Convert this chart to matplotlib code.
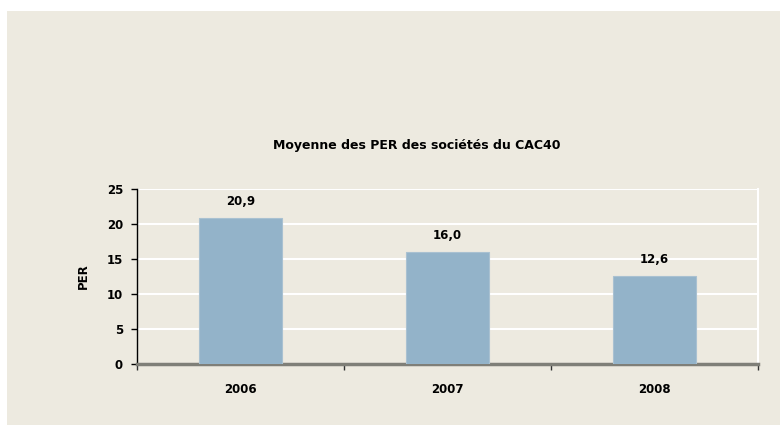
import matplotlib.pyplot as plt
from matplotlib.patches import Rectangle

# data
years = ['2006', '2007', '2008']
per_values = [20.9, 16.0, 12.6]
y_ticks = [0, 5, 10, 15, 20, 25]

BEIGE = '#edeae0'
BAR = '#93b3c9'

plt.rcParams['font.family'] = ['DejaVu Sans']
plt.rcParams['font.weight'] = 'bold'

fig = plt.figure(figsize=(7.8, 4.25), dpi=100, facecolor='white')
fig.patches.append(Rectangle((7 / 780, 0), 1 - 7 / 780, 1 - 11 / 425,
                             transform=fig.transFigure, facecolor=BEIGE,
                             edgecolor='none', zorder=-10))

ax = fig.add_axes([137 / 780, 61 / 425, 621 / 780, 175 / 425])
ax.set_facecolor(BEIGE)

x = range(len(years))
bars = ax.bar(x, per_values, width=0.4, color=BAR, edgecolor='#a9c1d1',
              linewidth=0.8, zorder=3)
for b, v in zip(bars, per_values):
    ax.annotate(f'{v:.1f}'.replace('.', ','), (b.get_x() + b.get_width() / 2, v),
                xytext=(0, 7), textcoords='offset points', ha='center', va='bottom',
                fontsize=8.5, fontweight='bold')

ax.set_xlim(-0.5, 2.5)
ax.set_ylim(0, 25)
ax.set_yticks(y_ticks)
ax.set_xticks(list(x))
ax.set_xticklabels(years, fontsize=8.5, fontweight='bold')
ax.set_xticks([-0.5, 0.5, 1.5, 2.5], minor=True)
ax.tick_params(axis='x', which='major', length=0, pad=14)
ax.tick_params(axis='x', which='minor', length=4, width=1, color='#333333')
ax.tick_params(axis='y', length=4, width=1, labelsize=8.5, pad=6)
for lab in ax.get_yticklabels():
    lab.set_fontweight('bold')

ax.grid(axis='y', color='white', linewidth=1.5, zorder=0)
ax.set_axisbelow(True)
ax.spines['top'].set_visible(False)
ax.spines['right'].set_color('white')
ax.spines['right'].set_linewidth(1.5)
ax.spines['left'].set_color('black')
ax.spines['left'].set_linewidth(1)
ax.spines['bottom'].set_color('#7f7f78')
ax.spines['bottom'].set_linewidth(2.5)

ax.set_ylabel('PER', fontsize=8.5, fontweight='bold', labelpad=12)

fig.text(417 / 780, 1 - 145 / 425, 'Moyenne des PER des sociétés du CAC40',
         ha='center', va='center', fontsize=9, fontweight='bold')

fig.savefig('out.png', dpi=100, facecolor='white')
